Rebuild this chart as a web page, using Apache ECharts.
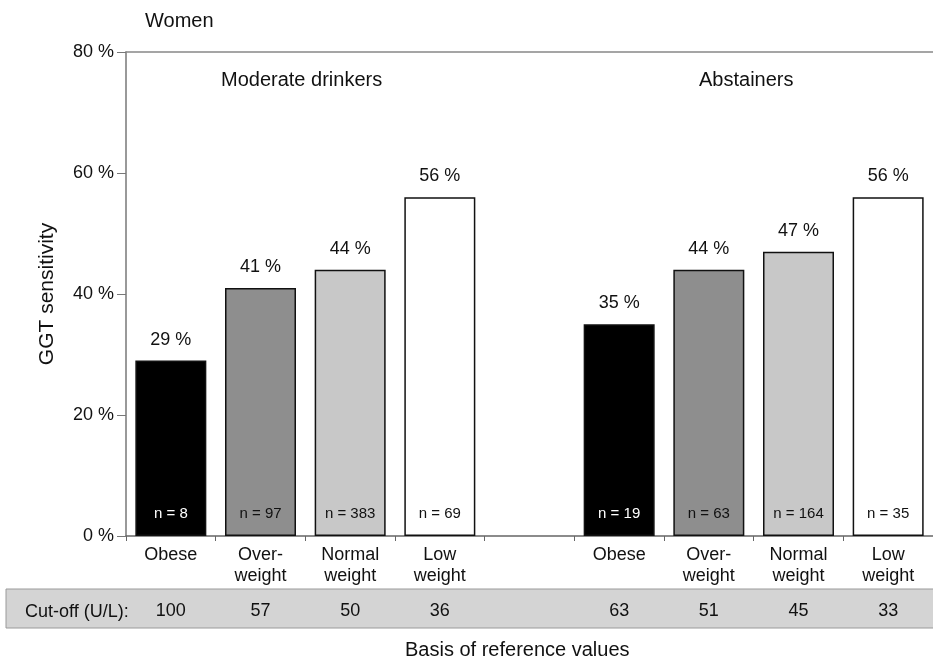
<!DOCTYPE html>
<html>
<head>
<meta charset="utf-8">
<script src="https://cdn.jsdelivr.net/npm/echarts@6/dist/echarts.min.js"></script>
<style>
html,body{margin:0;padding:0;background:#fff;}
#chart{width:933px;height:661px;}
</style>
</head>
<body>
<div id="chart"></div>
<script>
// ---- data ----
const categories = ['Obese', 'Over-\nweight', 'Normal\nweight', 'Low\nweight', '', 'Obese', 'Over-\nweight', 'Normal\nweight', 'Low\nweight'];
const sensitivity = [29, 41, 44, 56, null, 35, 44, 47, 56];
const sampleSizes = [8, 97, 383, 69, null, 19, 63, 164, 35];
const cutoffs = ['100', '57', '50', '36', '', '63', '51', '45', '33'];
const yTicks = [0, 20, 40, 60, 80];
const groupTitles = ['Moderate drinkers', 'Abstainers'];

// ---- styles ----
const fills = ['#000000', '#8e8e8e', '#c8c8c8', '#ffffff', '#ffffff', '#000000', '#8e8e8e', '#c8c8c8', '#ffffff'];
const nColors = ['#ffffff', '#111', '#111', '#111', '#111', '#ffffff', '#111', '#111', '#111'];
const FONT = '"Liberation Sans", Arial, sans-serif';

const barData = sensitivity.map((v, i) => ({
  value: v,
  itemStyle: { color: fills[i], borderColor: '#111', borderWidth: 1.5 },
  label: { color: nColors[i] }
}));

const chart = echarts.init(document.getElementById('chart'));
chart.setOption({
  animation: false,
  textStyle: { fontFamily: FONT },
  grid: { left: 126, right: -6, top: 52, bottom: 125, containLabel: false },
  xAxis: [
    {
      type: 'category', data: categories, position: 'bottom',
      axisLine: { lineStyle: { color: '#666', width: 1.5 } },
      axisTick: { show: true, length: 5, lineStyle: { color: '#666' } },
      axisLabel: { color: '#111', fontSize: 18, lineHeight: 21, margin: 9, fontFamily: FONT, interval: 0 }
    },
    {
      type: 'category', data: cutoffs, position: 'bottom', offset: 58,
      axisLine: { show: false }, axisTick: { show: false },
      axisLabel: { color: '#111', fontSize: 18, margin: 8, fontFamily: FONT, interval: 0 }
    },
    {
      type: 'category', data: categories, position: 'top',
      axisLine: { show: true, lineStyle: { color: '#888', width: 1.5 } },
      axisTick: { show: false }, axisLabel: { show: false }
    }
  ],
  yAxis: {
    type: 'value', min: yTicks[0], max: yTicks[yTicks.length - 1], interval: 20,
    axisLine: { show: true, lineStyle: { color: '#777', width: 1.5 } },
    axisTick: { show: true, length: 9, lineStyle: { color: '#777' } },
    splitLine: { show: false },
    axisLabel: { formatter: '{value} %', color: '#111', fontSize: 18, margin: 12, fontFamily: FONT },
    name: 'GGT sensitivity', nameLocation: 'middle', nameGap: 68, nameRotate: 90,
    nameTextStyle: { fontSize: 21, color: '#111', fontFamily: FONT }
  },
  series: [
    {
      type: 'bar', data: barData, barWidth: 71, barGap: '-100%', xAxisIndex: 0,
      label: {
        show: true, position: 'insideBottom', distance: 15, fontSize: 15, fontFamily: FONT,
        formatter: p => sampleSizes[p.dataIndex] == null ? '' : 'n = ' + sampleSizes[p.dataIndex]
      }
    },
    {
      type: 'bar', data: sensitivity, barWidth: 71, barGap: '-100%', xAxisIndex: 0,
      itemStyle: { color: 'rgba(0,0,0,0)' }, silent: true,
      label: {
        show: true, position: 'top', distance: 12, fontSize: 18, color: '#111', fontFamily: FONT,
        formatter: p => p.value == null ? '' : p.value + ' %'
      }
    }
  ],
  graphic: [
    { type: 'rect', z: -10, shape: { x: 6, y: 589, width: 930, height: 39 },
      style: { fill: '#d4d4d4', stroke: '#9a9a9a', lineWidth: 1 } },
    { type: 'text', left: 25, top: 603, style: { text: 'Cut-off (U/L):', fontSize: 18, fill: '#111', fontFamily: FONT } },
    { type: 'text', left: 145, top: 11, style: { text: 'Women', fontSize: 20, fill: '#111', fontFamily: FONT } },
    { type: 'text', left: 221, top: 70, style: { text: groupTitles[0], fontSize: 20, fill: '#111', fontFamily: FONT } },
    { type: 'text', left: 699, top: 70, style: { text: groupTitles[1], fontSize: 20, fill: '#111', fontFamily: FONT } },
    { type: 'text', left: 405, top: 640, style: { text: 'Basis of reference values', fontSize: 20, fill: '#111', fontFamily: FONT } }
  ]
});
</script>
</body>
</html>
